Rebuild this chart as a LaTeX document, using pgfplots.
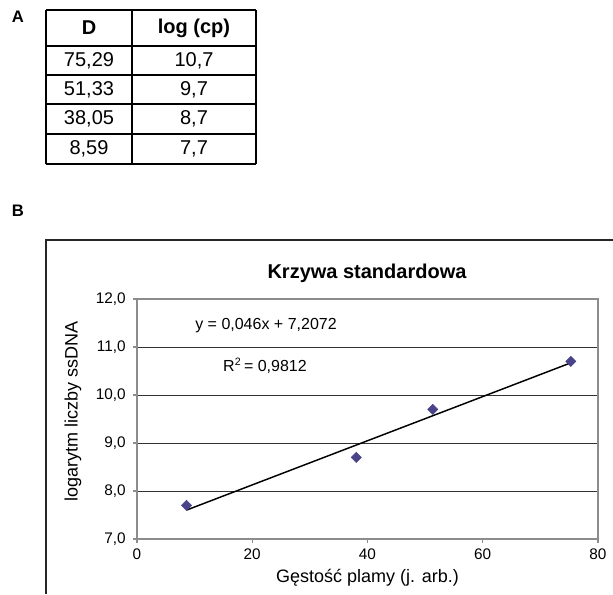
\documentclass[border=0pt]{standalone}
\usepackage{fontspec}
\setmainfont{Liberation Sans}
\usepackage{pgfplots}
\pgfplotsset{compat=1.18}
\definecolor{markblue}{RGB}{72,68,135}
\definecolor{framegray}{RGB}{140,140,140}

\begin{document}
\begin{tikzpicture}[x=0.75pt,y=0.75pt]
\useasboundingbox (0,0) rectangle (613,594);

% panel A: table
\node[font=\fontsize{12.5}{14}\selectfont\bfseries] at (18,577) {A};
\foreach \yy in {584,548,519,490,460,430}
  \draw[line width=1.5pt] (46,\yy) -- (256,\yy);
\foreach \xx in {46,132,256}
  \draw[line width=1.5pt] (\xx,584) -- (\xx,430);
\begin{scope}[every node/.style={font=\fontsize{15}{17}\selectfont}]
\node[font=\fontsize{15}{17}\selectfont\bfseries] at (89,566) {D};
\node[font=\fontsize{15}{17}\selectfont\bfseries] at (194,566) {log (cp)};
\node at (89,533.5) {75,29}; \node at (194,533.5) {10,7};
\node at (89,504.5) {51,33}; \node at (194,504.5) {9,7};
\node at (89,475) {38,05};   \node at (194,475) {8,7};
\node at (89,445) {8,59};    \node at (194,445) {7,7};
\end{scope}

% panel B: chart
\node[font=\fontsize{12.5}{14}\selectfont\bfseries] at (18,383) {B};
\draw[line width=1.5pt, black!85] (46,0) -- (46,354) -- (613,354);
\node[font=\fontsize{15}{18}\selectfont\bfseries] at (367,321) {Krzywa standardowa};

\coordinate (axorig) at (137,55);
\begin{axis}[
  at={(axorig)}, anchor=south west,
  scale only axis, width=345.75pt, height=180pt,
  xmin=0, xmax=80, ymin=7, ymax=12,
  xtick={0,20,40,60,80}, ytick={7,8,9,10,11,12},
  yticklabel style={xshift=-2pt, /pgf/number format/.cd, fixed, fixed zerofill, precision=1, use comma},
  xticklabel style={yshift=-1pt},
  /pgf/number format/assume math mode=true,
  tick label style={font=\fontsize{11.5}{13}\selectfont},
  axis line style={framegray, line width=0.8pt},
  tick style={framegray, line width=0.8pt},
  tick align=outside, major tick length=3pt,
  xtick pos=left, ytick pos=left,
  ymajorgrids, grid style={black!80, line width=0.6pt},
  xlabel={Gęstość plamy (j. arb.)},
  ylabel={logarytm liczby ssDNA},
  every axis x label/.style={at={(axis description cs:0.5,0)}, anchor=center, yshift=-29pt, font=\fontsize{13.5}{16}\selectfont},
  every axis y label/.style={at={(axis description cs:0,0.5)}, anchor=center, xshift=-48pt, yshift=6pt, rotate=90, font=\fontsize{13.5}{16}\selectfont},
]
\addplot[only marks, mark=square*, mark size=2.7pt, mark options={rotate=45, fill=markblue, draw=markblue}]
  coordinates {(75.29,10.7) (51.33,9.7) (38.05,8.7) (8.59,7.7)};
\addplot[black, line width=1.1pt] coordinates {(8.59,7.6023) (75.29,10.6705)};
\end{axis}

\node[font=\fontsize{12}{14}\selectfont] at (266,268) {y = 0,046x + 7,2072};
\node[font=\fontsize{12}{14}\selectfont] at (265,228) {R\textsuperscript{2}\,= 0,9812};
\end{tikzpicture}
\end{document}
